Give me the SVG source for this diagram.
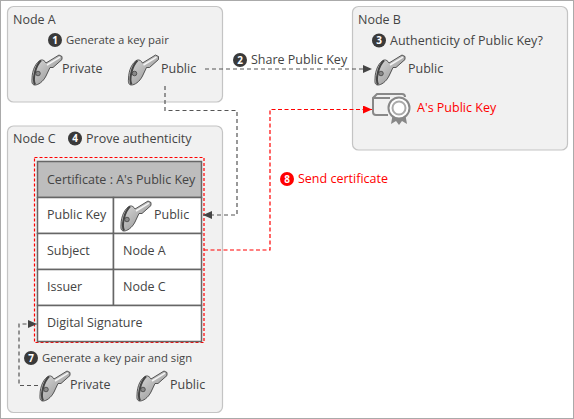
<svg xmlns="http://www.w3.org/2000/svg" width="574" height="419" viewBox="0 0 574 419">
<style>
text{font-family:"Open Sans","Noto Sans","Liberation Sans",sans-serif;font-size:12.500px;fill:#444}
.node{fill:#f1f1f1;stroke:#c4c4c4;stroke-width:1.2}
.cell{fill:#fff;stroke:#666;stroke-width:1.5}
.d{fill:none;stroke:#555;stroke-width:1.2;stroke-dasharray:4 3}
.r{fill:none;stroke:#f00;stroke-width:1.2;stroke-dasharray:4 2.5}
.num{fill:#3a3a3a}
.n{fill:#fff;font-size:10px;font-weight:700;text-anchor:middle}
.s{font-size:11.300px}
.red{fill:#f00}
</style>
<defs>
<marker id="ah" markerUnits="userSpaceOnUse" markerWidth="10" markerHeight="10" refX="9" refY="4" orient="auto"><path d="M0 0L9 4L0 8Z" fill="#444"/></marker>
<marker id="ar" markerUnits="userSpaceOnUse" markerWidth="10" markerHeight="10" refX="9" refY="4" orient="auto"><path d="M0 0L9 4L0 8Z" fill="#f00"/></marker>
<linearGradient id="kg" x1="0" y1="0" x2="1" y2="1"><stop offset="0" stop-color="#e2e2e2"/><stop offset=".55" stop-color="#b0b0b0"/><stop offset="1" stop-color="#808080"/></linearGradient>
<symbol id="key" overflow="visible">
<path d="M1 25C1 16 5 8 10 6C12 5.500 14 7 15 9L28 1L31 2.500V5.500L22 13.500H19L15 22C12 28 7 31 4 31C1.500 31 .5 29 1 25Z" fill="url(#kg)" stroke="#333" stroke-width=".8"/>
<path d="M4 30.500C1.500 26 4 12 10 6.500" fill="none" stroke="#444" stroke-width="2"/>
<circle cx="7" cy="19.500" r="2.300" fill="#888" stroke="#333" stroke-width=".7"/>
<path d="M16 11L29 3.200" stroke="#f4f4f4" stroke-width="1.500" fill="none"/>
</symbol>
</defs>
<rect x=".5" y=".5" width="573" height="418" fill="#fff" stroke="#aaa"/>
<g id="node-a">
<rect class="node" x="7.500" y="6.500" width="215" height="95.500" rx="6"/>
<text x="13" y="24">Node A</text>
<circle class="num" cx="55" cy="40" r="7"/><text class="n" x="55" y="43.500">1</text>
<text class="s" x="66" y="44">Generate a key pair</text>
<use href="#key" x="31" y="54"/><text x="62" y="73">Private</text>
<use href="#key" x="127.500" y="54"/><text x="161" y="73">Public</text>
</g>
<g id="node-b">
<rect class="node" x="352.500" y="6.500" width="215" height="143.500" rx="6"/>
<text x="358" y="24">Node B</text>
<circle class="num" cx="379" cy="40.500" r="7"/><text class="n" x="379" y="44">3</text>
<text x="390" y="45">Authenticity of Public Key?</text>
<use href="#key" x="374" y="54"/><text x="408" y="73">Public</text>
<g id="cert">
<path d="M373 112V98L377 94H402Q405 94 405 97" fill="none" stroke="#888" stroke-width="2"/>
<path d="M373 98H390M373 112Q373 115 376 115H388" fill="none" stroke="#888" stroke-width="2"/>
<path d="M393 113L391 124L396 121L399 125L402 121L407 124L405 113Z" fill="#888"/>
<circle cx="399" cy="108" r="10.500" fill="#fff" stroke="#888" stroke-width="2"/>
<circle cx="399" cy="108" r="6.500" fill="#fff" stroke="#aaa" stroke-width="2"/>
</g>
<text class="red" x="417" y="112">A's Public Key</text>
</g>
<g id="node-c">
<rect class="node" x="7.500" y="126" width="215" height="286.500" rx="6"/>
<text x="13" y="143">Node C</text>
<circle class="num" cx="75" cy="138.500" r="7"/><text class="n" x="75" y="142">4</text>
<text x="86" y="143">Prove authenticity</text>
<rect x="34.500" y="157.500" width="169.500" height="185" fill="none" stroke="#f00" stroke-width="1.200" stroke-dasharray="3 2"/>
<g id="certificate">
<rect x="37.500" y="161.500" width="164" height="36" fill="#bdbdbd" stroke="#666" stroke-width="1.500"/>
<rect class="cell" x="37.500" y="197.500" width="76" height="36"/>
<rect class="cell" x="113.500" y="197.500" width="88" height="36"/>
<rect class="cell" x="37.500" y="233.500" width="76" height="36"/>
<rect class="cell" x="113.500" y="233.500" width="88" height="36"/>
<rect class="cell" x="37.500" y="269.500" width="76" height="36"/>
<rect class="cell" x="113.500" y="269.500" width="88" height="36"/>
<rect class="cell" x="37.500" y="305.500" width="164" height="36"/>
<text x="47" y="184">Certificate : A's Public Key</text>
<text x="47" y="219">Public Key</text>
<use href="#key" x="120" y="200"/><text x="154" y="219">Public</text>
<text x="47" y="255">Subject</text><text x="123" y="255">Node A</text>
<text x="47" y="291">Issuer</text><text x="123" y="291">Node C</text>
<text x="47" y="327">Digital Signature</text>
</g>
<circle class="num" cx="31" cy="358" r="7"/><text class="n" x="31" y="361.500">7</text>
<text class="s" x="42" y="362">Generate a key pair and sign</text>
<use href="#key" x="39" y="370"/><text x="70" y="389">Private</text>
<use href="#key" x="136" y="370"/><text x="170" y="389">Public</text>
</g>
<g id="connectors">
<path class="d" d="M205 69H372" marker-end="url(#ah)"/>
<path class="d" d="M165 86V110.500H237V215H203" marker-end="url(#ah)"/>
<path class="d" d="M38 385.500H19V324H37" marker-end="url(#ah)"/>
<path class="r" d="M204 250H270V109.500H372" marker-end="url(#ar)"/>
</g>
<g id="labels">
<circle class="num" cx="240" cy="60" r="7"/><text class="n" x="240" y="63.500">2</text>
<text x="251" y="64">Share Public Key</text>
<circle cx="287" cy="179" r="7" fill="#f00"/><text class="n" x="287" y="182.500">8</text>
<text class="red" x="298" y="183">Send certificate</text>
</g>
</svg>
